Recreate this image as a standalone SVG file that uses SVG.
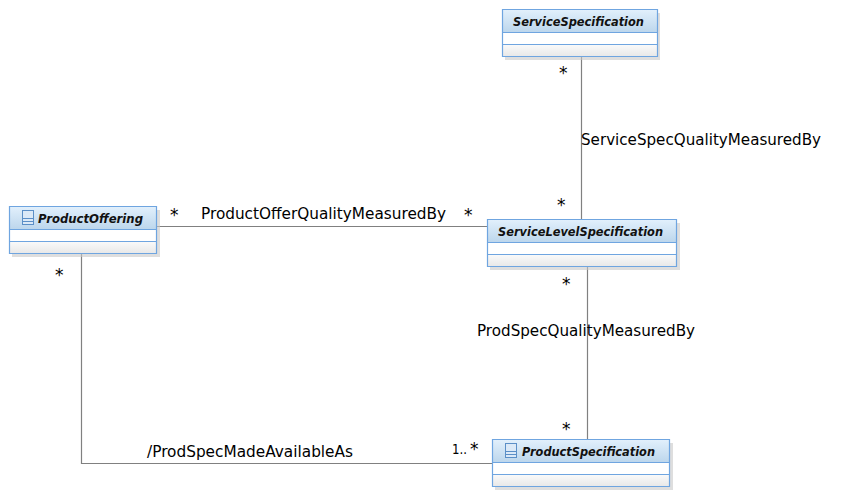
<svg xmlns="http://www.w3.org/2000/svg" width="846" height="502" viewBox="0 0 846 502">
<style>
text{font-family:"DejaVu Sans",Verdana,sans-serif;fill:#000}
.t{font-size:12.5px;font-weight:bold;font-style:italic;fill:#111}
.l{font-size:15.1px}
.s{font-size:17px}
.b{fill:none;stroke:#6fa5e0;stroke-width:1.2}
.d{fill:#c8c8c8;opacity:.6}
.c{fill:none;stroke:#808080;stroke-width:1.2}
</style>
<defs>
<linearGradient id="h" x1="0" y1="0" x2="0" y2="1"><stop offset="0" stop-color="#e2f0fc"/><stop offset="1" stop-color="#bcd6ec"/></linearGradient>
<linearGradient id="f" x1="0" y1="0" x2="0" y2="1"><stop offset="0" stop-color="#fafafa"/><stop offset="1" stop-color="#e8e8e8"/></linearGradient>
<g id="ic"><rect x="0.5" y="0.5" width="11" height="14" fill="#dbe9f7" stroke="#5b8fc7"/><path d="M0.5 8.500H11.500M0.500 11.500H11.500" stroke="#5b8fc7" fill="none"/></g>
</defs>
<g id="connectors">
<path class="c" d="M581.500 57V220M157 226.500H488M587.500 267V440M81.500 253V463.500H493"/>
</g>
<g id="ServiceSpecification">
<rect class="d" x="505" y="13" width="155" height="47"/>
<rect x="502.500" y="9.500" width="155" height="47" fill="#fff"/>
<rect x="502.500" y="9.500" width="155" height="23" fill="url(#h)"/>
<rect x="502.500" y="44.500" width="155" height="12" fill="url(#f)"/>
<path class="b" d="M502.500 9.500H657.500V56.500H502.500ZM502.500 32.500H657.500M502.500 44.500H657.500"/>
<text class="t" x="513" y="26" textLength="131" lengthAdjust="spacingAndGlyphs">ServiceSpecification</text>
</g>
<g id="ProductOffering">
<rect class="d" x="12" y="210" width="148" height="47"/>
<rect x="9.500" y="206.500" width="147" height="47" fill="#fff"/>
<rect x="9.500" y="206.500" width="147" height="23" fill="url(#h)"/>
<rect x="9.500" y="241.500" width="147" height="12" fill="url(#f)"/>
<path class="b" d="M9.500 206.500H156.500V253.500H9.500ZM9.500 229.500H156.500M9.500 241.500H156.500"/>
<use href="#ic" x="22" y="210"/>
<text class="t" x="38" y="223" textLength="105" lengthAdjust="spacingAndGlyphs">ProductOffering</text>
</g>
<g id="ServiceLevelSpecification">
<rect class="d" x="490" y="223" width="190" height="47"/>
<rect x="487.500" y="219.500" width="189" height="47" fill="#fff"/>
<rect x="487.500" y="219.500" width="189" height="23" fill="url(#h)"/>
<rect x="487.500" y="254.500" width="189" height="12" fill="url(#f)"/>
<path class="b" d="M487.500 219.500H676.500V266.500H487.500ZM487.500 242.500H676.500M487.500 254.500H676.500"/>
<text class="t" x="498" y="236" textLength="165" lengthAdjust="spacingAndGlyphs">ServiceLevelSpecification</text>
</g>
<g id="ProductSpecification">
<rect class="d" x="495" y="443" width="178" height="47"/>
<rect x="492.500" y="439.500" width="177" height="47" fill="#fff"/>
<rect x="492.500" y="439.500" width="177" height="23" fill="url(#h)"/>
<rect x="492.500" y="474.500" width="177" height="12" fill="url(#f)"/>
<path class="b" d="M492.500 439.500H669.500V486.500H492.500ZM492.500 462.500H669.500M492.500 474.500H669.500"/>
<use href="#ic" x="505" y="443"/>
<text class="t" x="522" y="456" textLength="133" lengthAdjust="spacingAndGlyphs">ProductSpecification</text>
</g>
<g id="labels">
<text class="l" x="581" y="145" textLength="240" lengthAdjust="spacingAndGlyphs">ServiceSpecQualityMeasuredBy</text>
<text class="l" x="201" y="219" textLength="245" lengthAdjust="spacingAndGlyphs">ProductOfferQualityMeasuredBy</text>
<text class="l" x="477" y="336" textLength="218" lengthAdjust="spacingAndGlyphs">ProdSpecQualityMeasuredBy</text>
<text class="l" x="147" y="457" textLength="206" lengthAdjust="spacingAndGlyphs">/ProdSpecMadeAvailableAs</text>
<text class="s" x="559" y="79">*</text>
<text class="s" x="170" y="221">*</text>
<text class="s" x="464" y="221">*</text>
<text class="s" x="557" y="211">*</text>
<text class="s" x="55" y="281">*</text>
<text class="s" x="562" y="290">*</text>
<text class="s" x="562" y="435">*</text>
<text x="452" y="454" style="font-size:14px" textLength="15" lengthAdjust="spacingAndGlyphs">1..</text>
<text class="s" x="470" y="455">*</text>
</g>
</svg>
